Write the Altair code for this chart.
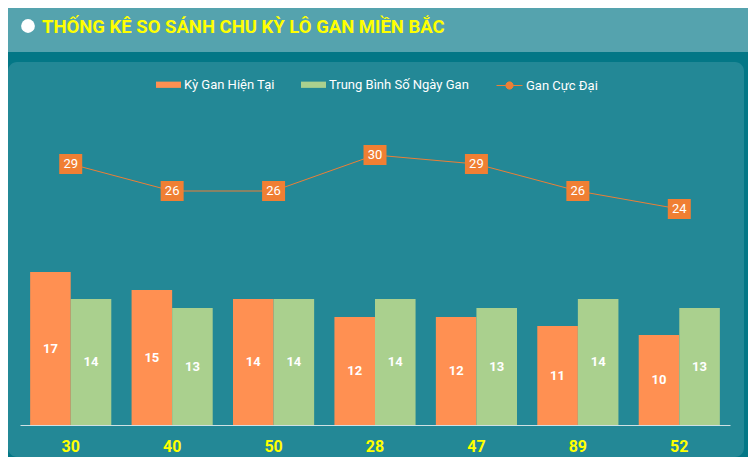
import altair as alt
import pandas as pd

categories = ["30", "40", "50", "28", "47", "89", "52"]
ky_gan_hien_tai = [17, 15, 14, 12, 12, 11, 10]
trung_binh = [14, 13, 14, 14, 13, 14, 13]
gan_cuc_dai = [29, 26, 26, 30, 29, 26, 24]

S1 = "Kỳ Gan Hiện Tại"
S2 = "Trung Bình Số Ngày Gan"
S3 = "Gan Cực Đại"
TITLE = "THỐNG KÊ SO SÁNH CHU KỲ LÔ GAN MIỀN BẮC"

ORANGE = "#ff9052"
GREEN = "#aad08e"
LINE = "#ec7f36"
BOX = "#f07f33"
YELLOW = "#ffff00"
HEADER = "#55a3ae"
OUTER = "#037786"
PANEL = "#238896"

df1 = pd.DataFrame({"cat": categories, "value": ky_gan_hien_tai, "series": [S1] * 7})
df2 = pd.DataFrame({"cat": categories, "value": trung_binh, "series": [S2] * 7})
line_df = pd.DataFrame({"cat": categories, "value": gan_cuc_dai, "series": [S3] * 7})
title_df = pd.DataFrame({"t": [TITLE]})

# panel (plot area) size and the region used by the bars inside it
PW, PH = 736, 395
X0, X1 = 12, 722
Y0 = 363            # baseline (value 0)
PX = 9              # pixels per unit
YMAX = 35
STEP = (X1 - X0) / len(categories)
BAND = 0.8 * STEP
OFF = BAND / 4
LEG_Y = 64

xscale = alt.Scale(domain=categories, range=[X0, X1], paddingInner=0.2, paddingOuter=0.1)
xaxis = alt.Axis(title=None, labelAngle=0, ticks=False, domainColor="#cfe1e4",
                 domainWidth=1, labelColor=YELLOW, labelFont="Roboto",
                 labelFontSize=16, labelFontWeight="bold", labelPadding=13, grid=False,
                 offset=-(PH - Y0))
xenc = alt.X("cat:N", scale=xscale, axis=xaxis)
yscale = alt.Scale(domain=[0, YMAX], range=[Y0, Y0 - PX * YMAX], nice=False, zero=True)
yenc = alt.Y("value:Q", scale=yscale, axis=None)

bar_path = "M-1,-0.25L1,-0.25L1,0.25L-1,0.25Z"
fill_enc = alt.Fill("series:N", scale=alt.Scale(domain=[S1, S2], range=[ORANGE, GREEN]),
                    legend=alt.Legend(title=None, orient="none", legendX=148, legendY=LEG_Y,
                                      direction="horizontal", symbolType=bar_path,
                                      symbolSize=625, symbolStrokeWidth=0,
                                      labelColor="white", labelFont="Roboto",
                                      labelFontSize=13, columnPadding=26, labelOffset=3))


def bar_layer(df, off):
    b = alt.Chart(df).mark_bar(width=BAND / 2, xOffset=off).encode(
        x=xenc, y=yenc, fill=fill_enc)
    t = alt.Chart(df).transform_calculate(mid="datum.value / 2").mark_text(
        font="Roboto", fontWeight="bold", fontSize=13, color="white", baseline="middle",
        xOffset=off).encode(
        x=xenc,
        y=alt.Y("mid:Q", scale=yscale, axis=None),
        text=alt.Text("value:Q"))
    return b, t


b1, t1 = bar_layer(df1, -OFF)
b2, t2 = bar_layer(df2, OFF)

line_path = "M-1,0L-0.28,0A0.28,0.28 0 1,1 0.28,0A0.28,0.28 0 1,1 -0.28,0M0.28,0L1,0"
line = alt.Chart(line_df).mark_line(strokeWidth=1).encode(
    x=xenc, y=yenc,
    stroke=alt.Stroke("series:N", scale=alt.Scale(domain=[S3], range=[LINE]),
                      legend=alt.Legend(title=None, orient="none", legendX=488, legendY=LEG_Y,
                                        symbolType=line_path, symbolSize=676,
                                        symbolStrokeWidth=1, symbolFillColor=LINE,
                                        symbolStrokeColor=LINE,
                                        labelColor="white", labelFont="Roboto",
                                        labelFontSize=13, labelOffset=3)),
)
box_path = "M-1,-0.87L1,-0.87L1,0.87L-1,0.87Z"
boxes = alt.Chart(line_df).mark_point(filled=True, opacity=1, color=BOX, shape=box_path,
                                      size=529).encode(x=xenc, y=yenc)
box_labels = alt.Chart(line_df).mark_text(font="Roboto", fontSize=13, color="white",
                                          baseline="middle").encode(
    x=xenc, y=yenc, text=alt.Text("value:Q"))

main = alt.layer(b1, b2, t1, t2, line, boxes, box_labels).properties(
    width=PW, height=PH,
    view=alt.ViewBackground(fill=PANEL, cornerRadius=9, strokeWidth=0),
)

HW, HH = 740, 44
dot = alt.Chart(title_df).mark_point(filled=True, color="white", opacity=1, size=190,
                                     xOffset=20 - HW / 2, yOffset=-4)
title = alt.Chart(title_df).mark_text(align="left", baseline="middle", font="Roboto",
                                      fontWeight="bold", fontSize=18.5, color=YELLOW,
                                      dx=34 - HW / 2, dy=-3).encode(text="t:N")
header = alt.layer(dot, title).properties(
    width=HW, height=HH,
    view=alt.ViewBackground(fill=HEADER, strokeWidth=0),
)

chart = alt.vconcat(header, main, spacing=10).properties(padding=0).configure(
    background=OUTER).configure_view(strokeWidth=0)

chart.save("out.html", embed_options={"renderer": "svg", "actions": False})
